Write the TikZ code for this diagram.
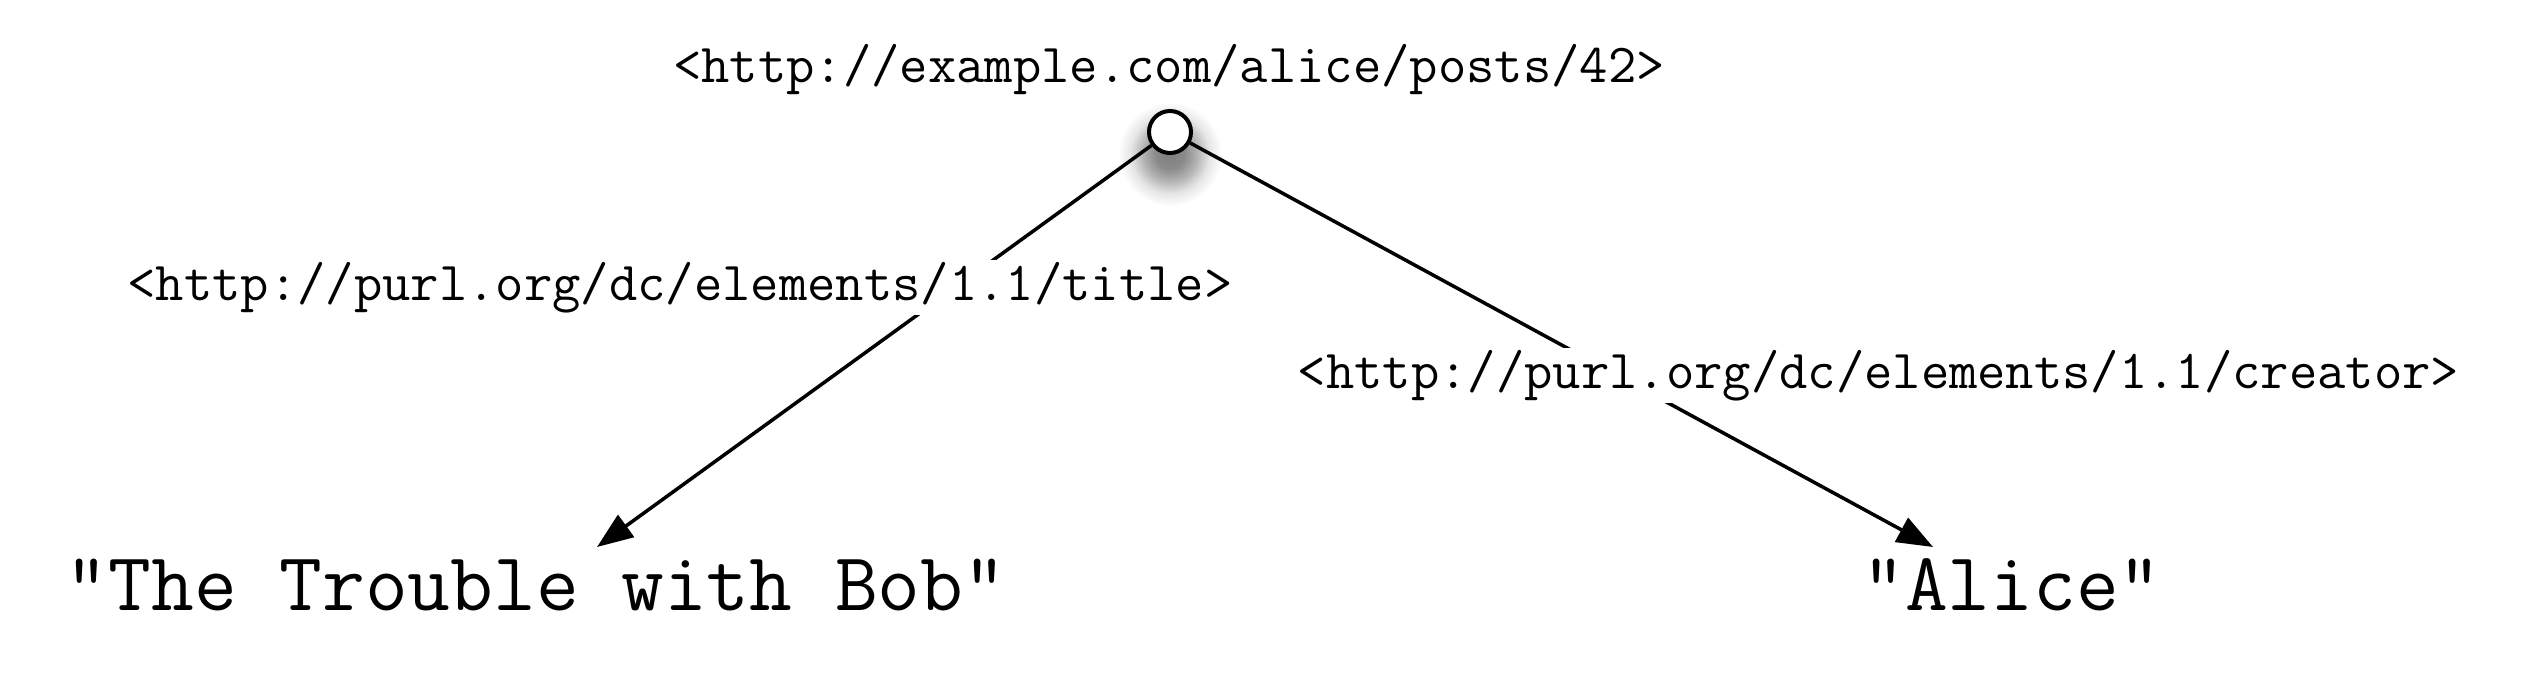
\documentclass[tikz,border=0pt]{standalone}
\usetikzlibrary{arrows.meta}
\pgfdeclareradialshading{softshadow}{\pgfpoint{0bp}{0bp}}{%
  color(0bp)=(black!50);
  color(7bp)=(black!46);
  color(13bp)=(black!30);
  color(19bp)=(black!10);
  color(25bp)=(white);
  color(50bp)=(white)}
\begin{document}
\begin{tikzpicture}[x=1pt,y=-1pt,
  lbl/.style={font=\fontsize{55}{60}\selectfont\ttfamily, anchor=base, inner sep=2pt},
  cutlbl/.style={lbl, fill=white},
  lit/.style={font=\fontsize{83}{90}\selectfont\ttfamily, anchor=base, inner sep=0pt},
  edge/.style={line width=3.5pt, -{Triangle[length=36pt,width=27pt]}},
  res/.style={circle, draw, line width=4pt, fill=white, minimum size=42pt, inner sep=0pt}]
\useasboundingbox (0,0) rectangle (2532,672);
\fill[white] (0,0) rectangle (2532,672);
\shade[shading=softshadow] (1170,154) circle (52);
\coordinate (tL) at (597,547);
\coordinate (tR) at (1933,547);
\node[res] (s) at (1170,132) {};
\draw[edge] (s) -- (tL);
\draw[edge] (s) -- (tR);
\node[lbl] (subj) at (1169,82) {<http://example.com/alice/posts/42>};
\node[cutlbl] (ptitle) at (680,300) {<http://purl.org/dc/elements/1.1/title>};
\node[cutlbl] (pcreator) at (1878.5,388) {<http://purl.org/dc/elements/1.1/creator>};
\node[lit] (otitle) at (536,610) {"The Trouble with Bob"};
\node[lit] (oalice) at (2012,610) {"Alice"};
\end{tikzpicture}
\end{document}
